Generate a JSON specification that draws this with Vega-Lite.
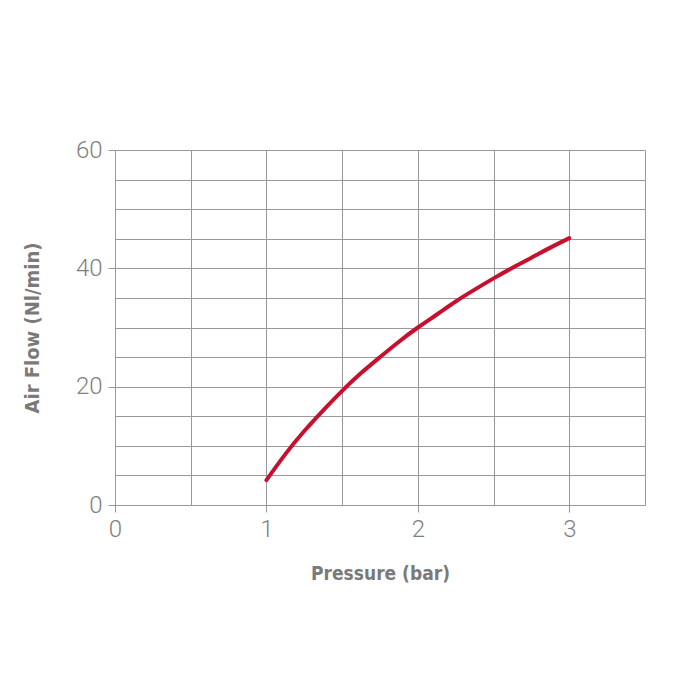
{
  "$schema": "https://vega.github.io/schema/vega-lite/v6.json",
  "width": 530,
  "height": 355,
  "autosize": {"type": "none"},
  "padding": {"left": 115, "top": 150, "right": 55, "bottom": 195},
  "background": "white",
  "config": {"view": {"stroke": null}},
  "data": {
    "values": [
      {"pressure": 1.0, "flow": 4.2},
      {"pressure": 1.125, "flow": 8.6},
      {"pressure": 1.25, "flow": 12.5},
      {"pressure": 1.375, "flow": 16.0},
      {"pressure": 1.5, "flow": 19.3},
      {"pressure": 1.625, "flow": 22.3},
      {"pressure": 1.75, "flow": 25.0},
      {"pressure": 1.875, "flow": 27.6},
      {"pressure": 2.0, "flow": 30.0},
      {"pressure": 2.125, "flow": 32.2},
      {"pressure": 2.25, "flow": 34.4},
      {"pressure": 2.375, "flow": 36.4},
      {"pressure": 2.5, "flow": 38.3},
      {"pressure": 2.625, "flow": 40.1},
      {"pressure": 2.75, "flow": 41.8},
      {"pressure": 2.875, "flow": 43.5},
      {"pressure": 3.0, "flow": 45.1}
    ]
  },
  "mark": {"type": "line", "color": "#c8102e", "strokeWidth": 4, "interpolate": "natural", "strokeCap": "round"},
  "encoding": {
    "x": {
      "field": "pressure",
      "type": "quantitative",
      "scale": {"domain": [0, 3.5], "nice": false, "zero": false},
      "axis": {
        "values": [0, 0.5, 1, 1.5, 2, 2.5, 3, 3.5],
        "format": "~g",
        "labelExpr": "datum.value % 1 === 0 ? datum.label : ''",
        "labelFlush": false,
        "labelOverlap": false,
        "tickOpacity": {"condition": {"test": "datum.value % 1 === 0", "value": 1}, "value": 0},
        "title": "Pressure (bar)",
        "titleFont": "DejaVu Sans Condensed",
        "titleFontSize": 19,
        "titleFontWeight": "bold",
        "titleColor": "#7a7a7a",
        "titlePadding": 23,
        "labelFont": "Roboto",
        "labelFontWeight": 300,
        "labelFontSize": 24,
        "labelColor": "#808080",
        "labelPadding": 5,
        "tickSize": 7,
        "tickColor": "#999999",
        "domainColor": "#999999",
        "gridColor": "#999999",
        "gridOpacity": 1,
        "grid": true
      }
    },
    "y": {
      "field": "flow",
      "type": "quantitative",
      "scale": {"domain": [0, 60], "nice": false},
      "axis": {
        "values": [0, 5, 10, 15, 20, 25, 30, 35, 40, 45, 50, 55, 60],
        "labelExpr": "datum.value % 20 === 0 ? datum.label : ''",
        "labelFlush": false,
        "labelOverlap": false,
        "tickOpacity": {"condition": {"test": "datum.value % 20 === 0", "value": 1}, "value": 0},
        "title": "Air Flow (Nl/min)",
        "titleFont": "DejaVu Sans Condensed",
        "titleFontSize": 20,
        "titleFontWeight": "bold",
        "titleColor": "#7a7a7a",
        "titlePadding": 33,
        "labelFont": "Roboto",
        "labelFontWeight": 300,
        "labelFontSize": 24,
        "labelColor": "#808080",
        "labelPadding": 6,
        "tickSize": 7,
        "tickColor": "#999999",
        "domainColor": "#999999",
        "gridColor": "#999999",
        "gridOpacity": 1,
        "grid": true
      }
    }
  }
}
